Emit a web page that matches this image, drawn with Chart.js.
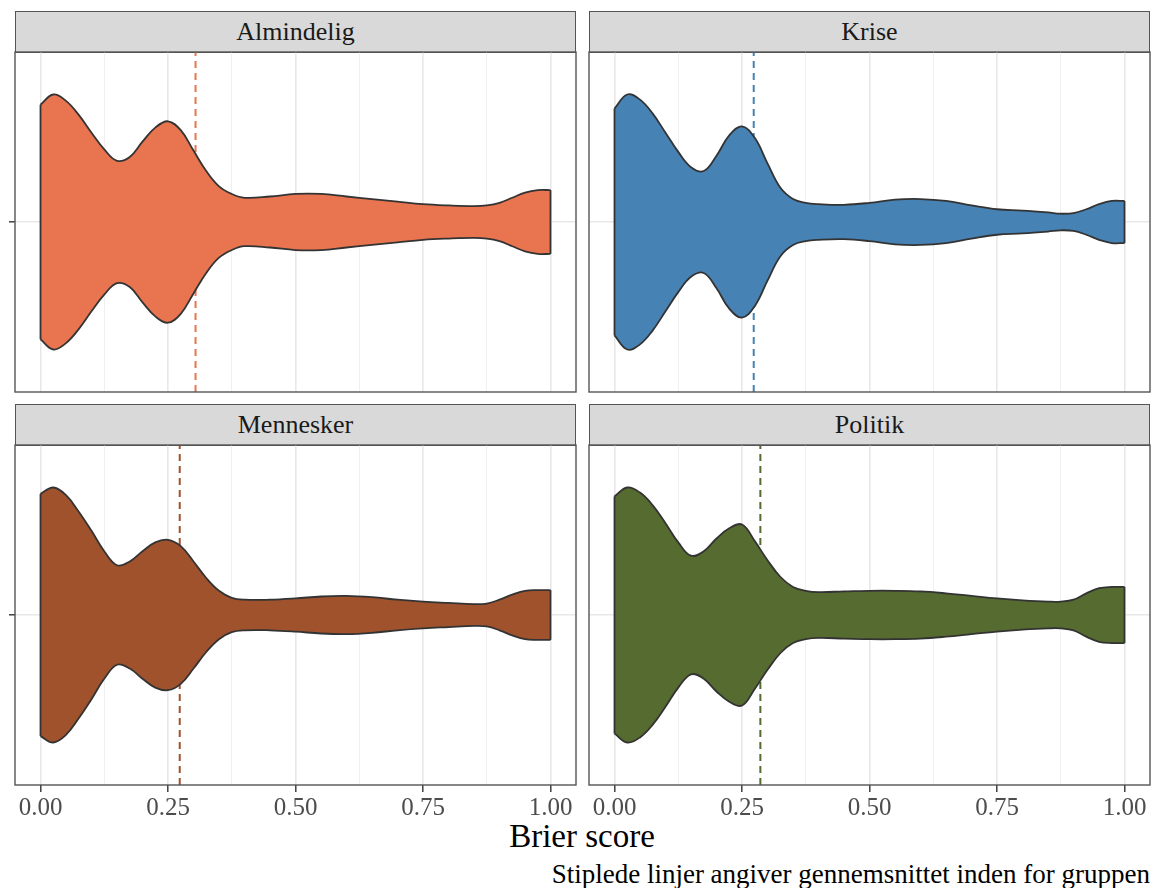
<!DOCTYPE html>
<html>
<head>
<meta charset="utf-8">
<title>Brier score</title>
<script src="https://cdn.jsdelivr.net/npm/chart.js@4/dist/chart.umd.min.js"></script>
<style>
  body { margin: 0; background: #fff; font-family: "Liberation Serif", "Times New Roman", serif; }
  #page { position: relative; width: 1157px; height: 888px; overflow: hidden; }
  canvas { position: absolute; }
  .strip {
    position: absolute; box-sizing: border-box; background: #d9d9d9;
    border: 1px solid #555; text-align: center; color: #1a1a1a;
    font-size: 26px; line-height: 39px;
  }
  .label { position: absolute; white-space: nowrap; color: #000; line-height: 1; }
</style>
</head>
<body>
<div id="page">
  <div class="label" style="left:0; width:1164px; top:820px; font-size:33px; text-align:center;">Brier score</div>
  <div class="label" style="right:7px; top:861px; font-size:27px;">Stiplede linjer angiver gennemsnittet inden for gruppen</div>
</div>
<script>
// Brier score grid the violin widths are read at
const xs = [0, 0.025, 0.05, 0.075, 0.1, 0.125, 0.15, 0.175, 0.2, 0.225, 0.25, 0.275, 0.3, 0.325,
            0.35, 0.375, 0.4, 0.45, 0.5, 0.55, 0.6, 0.65, 0.7, 0.75, 0.8, 0.85, 0.875, 0.9,
            0.925, 0.95, 0.975, 1.0];

// scaled density (1 = widest point of the violin)
const almindelig = [0.92, 1.00, 0.95, 0.84, 0.70, 0.57, 0.48, 0.51, 0.63, 0.74, 0.79, 0.72, 0.56, 0.40,
                    0.28, 0.22, 0.19, 0.20, 0.22, 0.22, 0.20, 0.18, 0.16, 0.14, 0.13, 0.125, 0.13, 0.15,
                    0.19, 0.23, 0.25, 0.25];
const krise = [0.89, 1.00, 0.96, 0.85, 0.70, 0.55, 0.43, 0.40, 0.52, 0.68, 0.75, 0.66, 0.46, 0.27,
               0.18, 0.15, 0.14, 0.135, 0.15, 0.175, 0.18, 0.165, 0.13, 0.10, 0.09, 0.075, 0.065, 0.07,
               0.10, 0.14, 0.165, 0.165];
const mennesker = [0.95, 1.00, 0.94, 0.81, 0.66, 0.50, 0.39, 0.42, 0.50, 0.57, 0.59, 0.54, 0.42, 0.29,
                   0.19, 0.135, 0.12, 0.12, 0.13, 0.145, 0.15, 0.14, 0.12, 0.105, 0.095, 0.086, 0.09, 0.12,
                   0.16, 0.19, 0.195, 0.195];
const politik = [0.93, 1.00, 0.96, 0.86, 0.72, 0.57, 0.465, 0.50, 0.60, 0.68, 0.71, 0.58, 0.43, 0.30,
                 0.22, 0.19, 0.18, 0.185, 0.19, 0.19, 0.185, 0.17, 0.15, 0.13, 0.115, 0.105, 0.105, 0.12,
                 0.17, 0.21, 0.22, 0.22];

const groups = ['Almindelig', 'Krise', 'Mennesker', 'Politik'];
const densities = [almindelig, krise, mennesker, politik];
const means = [0.304, 0.273, 0.273, 0.286];

const xTicks = [0, 0.25, 0.5, 0.75, 1];
const xMinor = [0.125, 0.375, 0.625, 0.875];
const xTickLabels = ['0.00', '0.25', '0.50', '0.75', '1.00'];

const colors = ['#e8754f', '#4682b4', '#a0522d', '#556b2f'];

// facet layout (page pixels)
const PANEL_W = 561, PANEL_H = 340, STRIP_H = 41;
const panels = [
    { left: 15, top: 52, col: 0, row: 0 },
    { left: 589, top: 52, col: 1, row: 0 },
    { left: 15, top: 445, col: 0, row: 1 },
    { left: 589, top: 445, col: 1, row: 1 }
];
const VIOLIN_HALF = 0.45;
const FONT = '"Liberation Serif", "Times New Roman", serif';

const panelBorder = {
    id: 'panelBorder',
    afterDraw(chart) {
        const a = chart.chartArea, ctx = chart.ctx;
        ctx.save();
        ctx.strokeStyle = '#555';
        ctx.lineWidth = 1.4;
        ctx.strokeRect(a.left, a.top, a.right - a.left, a.bottom - a.top);
        ctx.restore();
    }
};

const page = document.getElementById('page');

panels.forEach((p, i) => {
    // strip
    const strip = document.createElement('div');
    strip.className = 'strip';
    strip.style.left = p.left + 'px';
    strip.style.top = (p.top - STRIP_H) + 'px';
    strip.style.width = PANEL_W + 'px';
    strip.style.height = (STRIP_H + 1) + 'px';
    strip.textContent = groups[i];
    page.appendChild(strip);

    const padL = p.col === 0 ? 15 : 2;
    const axisH = p.row === 1 ? 45 : 0;
    const canvas = document.createElement('canvas');
    canvas.width = padL + PANEL_W + 2;
    canvas.height = 2 + PANEL_H + (p.row === 1 ? axisH : 2);
    canvas.style.left = (p.left - padL) + 'px';
    canvas.style.top = (p.top - 2) + 'px';
    page.appendChild(canvas);

    const d = densities[i];
    const upper = xs.map((x, k) => ({ x, y: 1 + d[k] * VIOLIN_HALF }));
    const lower = xs.map((x, k) => ({ x, y: 1 - d[k] * VIOLIN_HALF }));
    const last = xs.length - 1;
    const line = { pointRadius: 0, borderColor: '#333', borderWidth: 1.8 };

    new Chart(canvas.getContext('2d'), {
        type: 'line',
        data: {
            datasets: [
                { data: [{ x: means[i], y: 0.4 }, { x: means[i], y: 1.6 }], borderColor: colors[i],
                  borderWidth: 2, borderDash: [7, 5], pointRadius: 0, fill: false, order: 4 },
                { ...line, data: upper, fill: '+1', backgroundColor: colors[i], tension: 0.4, order: 3 },
                { ...line, data: lower, fill: false, tension: 0.4, order: 2 },
                { ...line, data: [lower[0], upper[0]], fill: false, tension: 0, order: 1 },
                { ...line, data: [lower[last], upper[last]], fill: false, tension: 0, order: 1 }
            ]
        },
        options: {
            responsive: false,
            animation: false,
            layout: { padding: { left: 2, right: 2, top: 2, bottom: p.row === 1 ? 0 : 2 } },
            plugins: { legend: { display: false }, tooltip: { enabled: false } },
            scales: {
                x: {
                    type: 'linear',
                    min: -0.05,
                    max: 1.05,
                    afterBuildTicks: s => { s.ticks = xTicks.concat(xMinor).sort((a, b) => a - b).map(v => ({ value: v })); },
                    afterFit: s => { s.height = axisH; },
                    border: { display: false },
                    grid: {
                        color: c => (c.tick && xMinor.includes(c.tick.value)) ? '#f0f0f0' : '#e8e8e8',
                        lineWidth: c => (c.tick && xMinor.includes(c.tick.value)) ? 1 : 1.6,
                        drawTicks: p.row === 1,
                        tickLength: 7,
                        tickColor: c => (c.tick && xMinor.includes(c.tick.value)) ? 'rgba(0,0,0,0)' : '#333',
                        tickWidth: 1.4
                    },
                    ticks: {
                        display: p.row === 1,
                        autoSkip: false,
                        maxRotation: 0,
                        padding: 1,
                        color: '#4d4d4d',
                        font: { family: FONT, size: 25 },
                        callback: v => { const k = xTicks.indexOf(v); return k >= 0 ? xTickLabels[k] : ''; }
                    }
                },
                y: {
                    type: 'linear',
                    min: 0.4,
                    max: 1.6,
                    afterBuildTicks: s => { s.ticks = [{ value: 1 }]; },
                    afterFit: s => { s.width = padL - 2; },
                    border: { display: false },
                    grid: {
                        color: '#e8e8e8',
                        lineWidth: 1.6,
                        drawTicks: p.col === 0,
                        tickLength: 6,
                        tickColor: '#333',
                        tickWidth: 1.4
                    },
                    ticks: { display: false }
                }
            }
        },
        plugins: [panelBorder]
    });
});
</script>
</body>
</html>
